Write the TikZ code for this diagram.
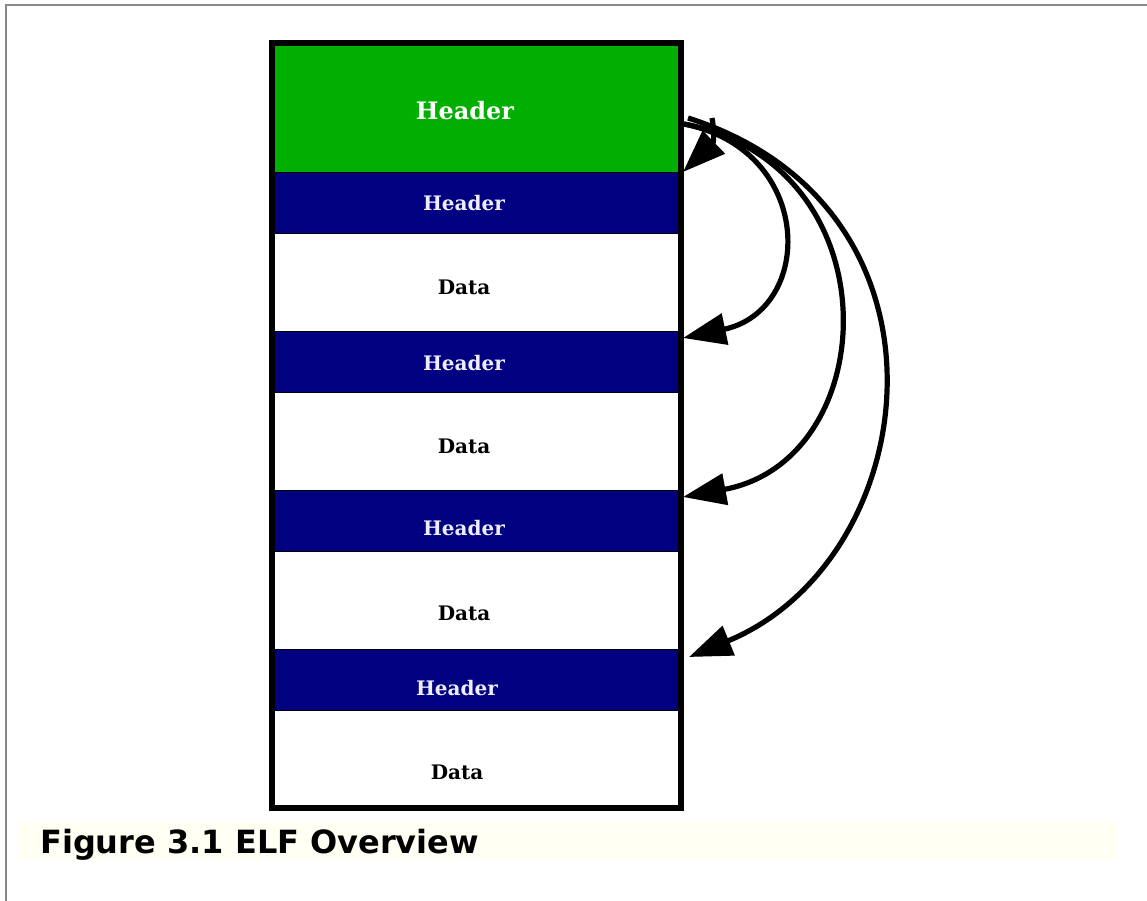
\documentclass[tikz,border=0pt]{standalone}
\usepackage{fontspec}
\setmainfont{DejaVu Serif}
\newfontfamily\capfont{DejaVu Sans}
\usetikzlibrary{arrows.meta}
\definecolor{elfgreen}{HTML}{00AF00}
\definecolor{elfnavy}{HTML}{000080}
\definecolor{capbg}{HTML}{FFFFF4}
\definecolor{framegray}{HTML}{888888}
\tikzset{
  band/.style={draw=black, line width=0.9pt, minimum width=409pt, inner sep=0pt, outer sep=0pt, anchor=north west},
  hdrband/.style={band, fill=elfnavy, minimum height=61pt},
  databand/.style={band, fill=white, minimum height=98pt},
  lbl/.style={font=\fontsize{20}{23}\selectfont\bfseries, inner sep=0pt},
  hdrlbl/.style={lbl, text=white!93!blue},
  datalbl/.style={lbl, text=black},
  link/.style={line width=5.2pt, -{Triangle[length=43pt,width=31pt]}},
}
\begin{document}
\begin{tikzpicture}[x=1pt,y=-1pt]
\useasboundingbox (0,0) rectangle (1147,901);
\fill[white] (0,0) rectangle (1147,901);
\draw[framegray, line width=2.2pt] (6,901) -- (6,5) -- (1147,5);
% caption
\fill[capbg] (18,822) rectangle (1117,860);
\node[anchor=base west, inner sep=0pt, font=\capfont\fontsize{32}{35}\selectfont\bfseries] (cap) at (40,853) {Figure 3.1 ELF Overview};
% bands
\node[band, fill=elfgreen, minimum height=129pt] (g) at (272,43) {};
\node[hdrband] (h1) at (272,172) {};
\node[databand] (d1) at (272,233) {};
\node[hdrband] (h2) at (272,331) {};
\node[databand] (d2) at (272,392) {};
\node[hdrband] (h3) at (272,490) {};
\node[databand] (d3) at (272,551) {};
\node[hdrband] (h4) at (272,649) {};
\node[databand] (d4) at (272,710) {};
\draw[line width=5.5pt] (272,43) rectangle (681,808);
% labels
\node[hdrlbl, text=white, font=\fontsize{24}{27}\selectfont\bfseries] (tg) at (465,111) {Header};
\node[hdrlbl] (t1) at (464,203) {Header};
\node[datalbl] (u1) at (464,287) {Data};
\node[hdrlbl] (t2) at (464,363) {Header};
\node[datalbl] (u2) at (464,446) {Data};
\node[hdrlbl] (t3) at (464,528) {Header};
\node[datalbl] (u3) at (464,613) {Data};
\node[hdrlbl] (t4) at (457,688) {Header};
\node[datalbl] (u4) at (457,772) {Data};
% arrows
\coordinate (s0) at (712,118);
\coordinate (s1) at (684,124);
\coordinate (s2) at (688,118);
\coordinate (e0) at (683,172);
\coordinate (e1) at (683,338);
\coordinate (e2) at (683,497);
\coordinate (e3) at (689,657);
\draw[link] (s0) .. controls (714,128) and (714,142) .. (e0);
\draw[link] (s1) .. controls (815,150) and (815,310) .. (e1);
\draw[link] (s1) .. controls (895,165) and (884,460) .. (e2);
\draw[link] (s2) .. controls (970,208) and (924,560) .. (e3);
\end{tikzpicture}
\end{document}
